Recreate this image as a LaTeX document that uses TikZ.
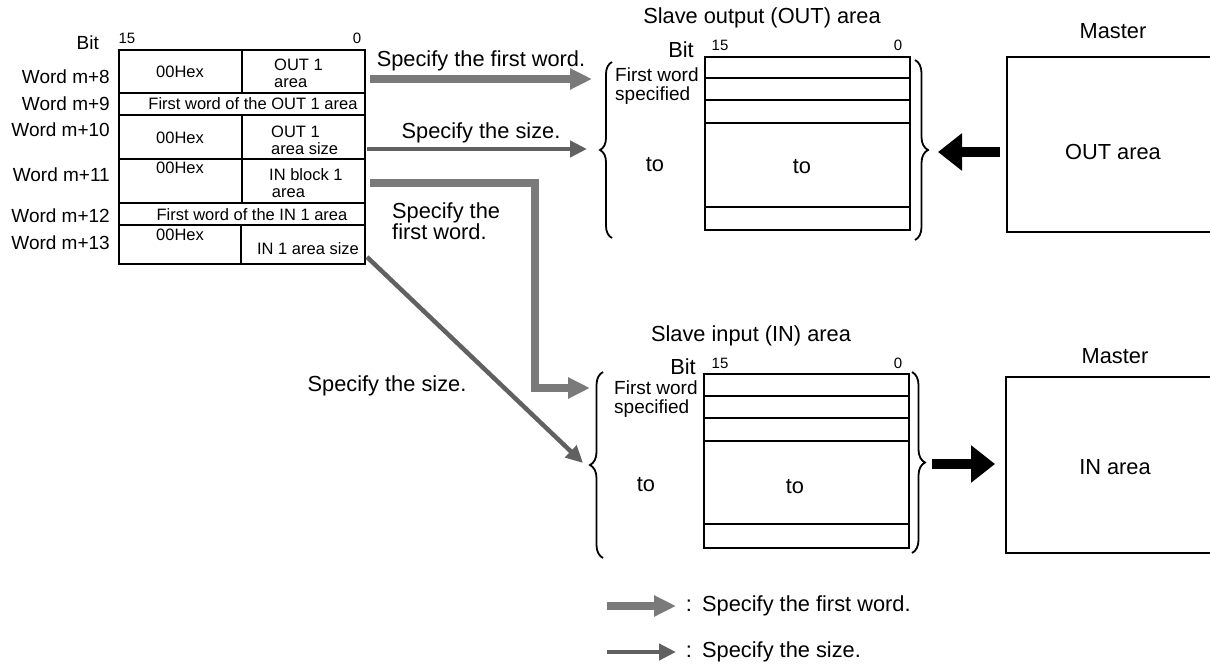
\documentclass[tikz,border=0pt]{standalone}
\usepackage{fontspec}
\setmainfont{Liberation Sans}
\usetikzlibrary{arrows.meta,decorations.pathreplacing}
\begin{document}
\begin{tikzpicture}[x=1pt,y=-1pt,
  box/.style={draw, line width=2pt, inner sep=0pt, anchor=north west},
  tline/.style={line width=2pt},
  big/.style={font=\fontsize{21.8}{24}\selectfont, inner sep=0pt},
  wlbl/.style={font=\fontsize{19}{21}\selectfont, inner sep=0pt, anchor=east},
  fws/.style={font=\fontsize{19}{19}\selectfont, inner sep=0pt, anchor=west, align=left},
  cell/.style={font=\fontsize{16.5}{17}\selectfont, inner sep=0pt, align=left},
  bitn/.style={font=\fontsize{15}{15}\selectfont, inner sep=0pt},
  firstarr/.style={draw=black!52, line width=8pt, -{Triangle[length=22pt,width=20pt]}},
  sizearr/.style={draw=black!62, line width=4.5pt, -{Triangle[length=17pt,width=16pt]}},
  blackarr/.style={draw=black, line width=10pt, -{Triangle[length=24pt,width=36pt]}},
  brc/.style={decorate, line width=1.8pt},
]
\useasboundingbox (0,0) rectangle (1210,666);

% ---------- left table ----------
\node[wlbl] (bitL) at (99,43) {Bit};
\node[bitn] (b15L) at (127,38) {15};
\node[bitn] (b0L) at (357,38) {0};

\node[box, minimum width=246pt, minimum height=43pt] (r8) at (118,49) {};
\node[box, minimum width=246pt, minimum height=22pt] (r9) at (118,92) {};
\node[box, minimum width=246pt, minimum height=44pt] (r10) at (118,114) {};
\node[box, minimum width=246pt, minimum height=44pt] (r11) at (118,158) {};
\node[box, minimum width=246pt, minimum height=22pt] (r12) at (118,202) {};
\node[box, minimum width=246pt, minimum height=39pt] (r13) at (118,224) {};
\draw[tline] (242,49) -- (242,92);
\draw[tline] (242,114) -- (242,202);
\draw[tline] (241,224) -- (241,263);

\node[wlbl] (w8) at (110,77) {Word m+8};
\node[wlbl] (w9) at (110,104) {Word m+9};
\node[wlbl] (w10) at (110,130) {Word m+10};
\node[wlbl] (w11) at (110,175) {Word m+11};
\node[wlbl] (w12) at (110,216) {Word m+12};
\node[wlbl] (w13) at (110,243) {Word m+13};

\node[cell] (h8) at (180,72) {00Hex};
\node[cell, anchor=west] (o8) at (274,73.5) {OUT 1\\area};
\node[cell] (f9) at (253,104) {First word of the OUT 1 area};
\node[cell] (h10) at (180,138) {00Hex};
\node[cell, anchor=west] (o10) at (271,140.5) {OUT 1\\area size};
\node[cell] (h11) at (180,168) {00Hex};
\node[cell, anchor=west] (o11) at (269,183.5) {IN block 1\\\,area};
\node[cell] (f12) at (252,215) {First word of the IN 1 area};
\node[cell] (h13) at (180,235) {00Hex};
\node[cell] (o13) at (308,249) {IN 1 area size};

% ---------- slave OUT ----------
\node[big] (tout) at (762,18) {Slave output (OUT) area};
\node[big, anchor=east] (bitO) at (694,50) {Bit};
\node[bitn] (b15O) at (720,45) {15};
\node[bitn] (b0O) at (898,45) {0};
\node[box, minimum width=205pt, minimum height=173pt] (tO) at (704,56) {};
\draw[tline] (704,78) -- (909,78);
\draw[tline] (704,100) -- (909,100);
\draw[tline] (704,123) -- (909,123);
\draw[tline] (704,207) -- (909,207);
\node[fws] (fwO) at (615,86.5) {First word\\specified};
\node[big] (toO1) at (655,165) {to};
\node[big] (toO2) at (802,167) {to};
\draw[brc, decoration={brace, amplitude=12pt}] (612,238) -- (612,62);
\draw[brc, decoration={brace, amplitude=13pt}] (915,60) -- (915,240);
\node[big] (mO) at (1113,31) {Master};
\node[box, minimum width=210pt, minimum height=175pt] (MO) at (1006,56) {};
\node[big] (oa) at (1113,152) {OUT area};

% ---------- slave IN ----------
\node[big] (tin) at (751,336) {Slave input (IN) area};
\node[big, anchor=east] (bitI) at (696,367) {Bit};
\node[bitn] (b15I) at (720,363) {15};
\node[bitn] (b0I) at (898,363) {0};
\node[box, minimum width=205pt, minimum height=174pt] (tI) at (703,373) {};
\draw[tline] (703,396) -- (908,396);
\draw[tline] (703,418) -- (908,418);
\draw[tline] (703,441) -- (908,441);
\draw[tline] (703,524) -- (908,524);
\node[fws] (fwI) at (614,399) {First word\\specified};
\node[big] (toI1) at (646,485) {to};
\node[big] (toI2) at (795,487) {to};
\draw[brc, decoration={brace, amplitude=13pt}] (603,558) -- (603,372);
\draw[brc, decoration={brace, amplitude=13pt}] (912,372) -- (912,553);
\node[big] (mI) at (1115,356) {Master};
\node[box, minimum width=210pt, minimum height=176pt] (MI) at (1005,376) {};
\node[big] (ia) at (1115,467) {IN area};

% ---------- connectors ----------
\coordinate (a1s) at (370,79);  \coordinate (a1e) at (592,79);
\coordinate (a2s) at (367,149); \coordinate (a2e) at (587,149);
\coordinate (a3s) at (370,183); \coordinate (a3c1) at (535,183);
\coordinate (a3c2) at (535,388); \coordinate (a3e) at (590,388);
\coordinate (a4s) at (367,257); \coordinate (a4e) at (583,463);
\coordinate (k1s) at (1000,152); \coordinate (k1e) at (938,152);
\coordinate (k2s) at (932,464); \coordinate (k2e) at (995,464);

\draw[firstarr] (a1s) -- (a1e);
\draw[sizearr] (a2s) -- (a2e);
\draw[firstarr] (a3s) -- (a3c1) -- (a3c2) -- (a3e);
\draw[sizearr] (a4s) -- (a4e);
\draw[blackarr] (k1s) -- (k1e);
\draw[blackarr] (k2s) -- (k2e);

\node[big] (l1) at (481,61) {Specify the first word.};
\node[big] (l2) at (481,133) {Specify the size.};
\node[big, anchor=west, align=left, font=\fontsize{21.8}{21}\selectfont] (l3) at (392,221.5) {Specify the\\first word.};
\node[big] (l4) at (387,386) {Specify the size.};

% ---------- legend ----------
\coordinate (g1s) at (607,606); \coordinate (g1e) at (676,606);
\coordinate (g2s) at (607,652); \coordinate (g2e) at (676,652);
\draw[firstarr] (g1s) -- (g1e);
\draw[sizearr] (g2s) -- (g2e);
\node[big] (c1) at (689,606) {:};
\node[big, anchor=west] (t1) at (702,606) {Specify the first word.};
\node[big] (c2) at (689,652) {:};
\node[big, anchor=west] (t2) at (702,652) {Specify the size.};
\end{tikzpicture}
\end{document}
